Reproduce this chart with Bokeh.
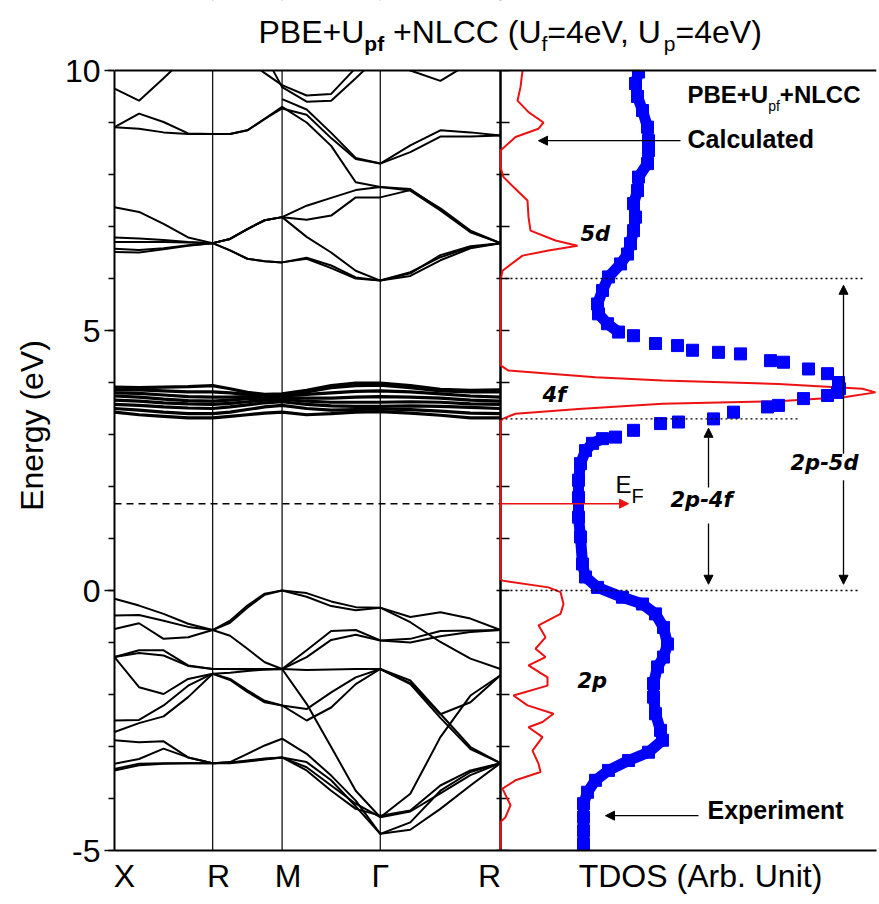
from bokeh.plotting import figure
from bokeh.models import (Range1d, FixedTicker, SingleIntervalTicker, BoxAnnotation,
                          CustomJSTickFormatter, Span, Label, Arrow, NormalHead)
from bokeh.embed import file_html
from bokeh.resources import INLINE

NaN = float("nan")

# ---------------- data ----------------
# high-symmetry points along the path (path length, 2pi/a units)
K_SYM = [0.0, 0.7071, 1.2071, 1.9142, 2.7802]
SYM_LABELS = ["X", "R", "M", "\u0393", "R"]
POINTS_PER_SEGMENT = 4          # energies read at 0, 1/4, 1/2, 3/4 of each segment (+ final point)
E_FERMI = 1.67
E_MIN, E_MAX = -5, 10
E_TICKS_INNER = [-5, -4, -3, -2, -1, 0, 1, 2, 3, 4, 5, 6, 7, 8, 9, 10]

# band energies (eV) at the sampled k points: X .. R .. M .. Gamma .. R
CONDUCTION = [
    [9.65, 9.42, 9.85, 10.3, 10.6, 10.5, 10.2, 9.95, 9.72, 9.52, 9.55, 10.05, 10.5, 10.8, 10.9, 10.8, 10.6],
    [NaN, NaN, NaN, NaN, NaN, NaN, 10.6, 10.3, 9.68, 9.40, 9.42, 9.85, 10.3, 10.0, 9.80, 10.15, 10.6],
    [NaN, NaN, NaN, NaN, NaN, NaN, NaN, NaN, 9.45, 9.25, 8.80, 8.32, 8.21, 8.43, 8.73, 8.73, 8.75],
    [8.91, 9.17, 9.01, 8.79, 8.78, 8.78, 8.85, 9.07, 9.27, 9.15, 8.70, 8.30, 8.21, 8.56, 8.85, 8.81, 8.75],
    [8.91, 8.88, 8.81, 8.78, 8.78, 8.78, 8.85, 9.07, 9.30, 9.00, 8.55, 7.85, 7.76, 7.72, 7.33, 6.90, 6.68],
    [7.37, 7.28, 7.05, 6.79, 6.68, 6.76, 6.95, 7.12, 7.18, 7.40, 7.55, 7.70, 7.76, 7.69, 7.31, 6.89, 6.68],
    [6.79, 6.77, 6.74, 6.70, 6.68, 6.76, 6.95, 7.12, 7.18, 7.13, 7.21, 7.56, 7.56, 7.70, 7.35, 6.92, 6.68],
    [6.70, 6.70, 6.70, 6.69, 6.68, 6.76, 6.95, 7.12, 7.18, 6.80, 6.50, 6.15, 5.96, 6.12, 6.41, 6.60, 6.68],
    [6.57, 6.55, 6.58, 6.64, 6.68, 6.54, 6.38, 6.33, 6.31, 6.40, 6.25, 6.02, 5.96, 6.05, 6.35, 6.58, 6.68],
    [6.51, 6.50, 6.56, 6.63, 6.68, 6.54, 6.38, 6.33, 6.31, 6.38, 6.20, 6.00, 5.96, 6.10, 6.45, 6.62, 6.68],
]
F_BANDS = [
    [3.91, 3.90, 3.91, 3.92, 3.94, 3.88, 3.81, 3.77, 3.78, 3.85, 3.94, 3.99, 3.99, 3.94, 3.87, 3.85, 3.86],
    [3.86, 3.86, 3.84, 3.82, 3.82, 3.80, 3.77, 3.75, 3.76, 3.82, 3.90, 3.94, 3.95, 3.90, 3.84, 3.82, 3.82],
    [3.80, 3.79, 3.76, 3.73, 3.72, 3.72, 3.73, 3.73, 3.74, 3.77, 3.80, 3.83, 3.84, 3.82, 3.78, 3.74, 3.72],
    [3.74, 3.72, 3.68, 3.65, 3.64, 3.66, 3.69, 3.70, 3.71, 3.70, 3.70, 3.72, 3.73, 3.72, 3.70, 3.66, 3.64],
    [3.66, 3.64, 3.61, 3.59, 3.58, 3.60, 3.63, 3.66, 3.68, 3.64, 3.62, 3.62, 3.62, 3.63, 3.62, 3.59, 3.58],
    [3.58, 3.56, 3.53, 3.51, 3.50, 3.53, 3.57, 3.61, 3.63, 3.58, 3.55, 3.54, 3.54, 3.55, 3.54, 3.52, 3.50],
    [3.50, 3.47, 3.43, 3.40, 3.40, 3.43, 3.48, 3.53, 3.56, 3.50, 3.47, 3.48, 3.49, 3.48, 3.45, 3.41, 3.40],
    [3.43, 3.38, 3.35, 3.32, 3.32, 3.35, 3.38, 3.41, 3.43, 3.38, 3.40, 3.43, 3.44, 3.41, 3.37, 3.32, 3.32],
]
VALENCE = [
    [-0.16, -0.29, -0.45, -0.64, -0.76, -0.58, -0.29, -0.06, 0.00, -0.05, -0.21, -0.32, -0.33, -0.51, -0.42, -0.54, -0.76],
    [-0.48, -0.47, -0.58, -0.70, -0.76, -0.62, -0.33, -0.08, 0.00, -0.12, -0.30, -0.38, -0.33, -0.61, -0.99, -1.31, -1.51],
    [-0.74, -0.63, -0.93, -0.90, -0.76, -0.87, -1.12, -1.38, -1.51, -1.15, -0.78, -0.76, -0.96, -0.93, -0.78, -0.77, -0.76],
    [-1.28, -1.20, -1.25, -1.45, -1.51, -1.51, -1.52, -1.52, -1.51, -1.28, -0.95, -0.85, -0.96, -1.00, -0.88, -0.80, -0.76],
    [-1.28, -1.15, -1.15, -1.44, -1.51, -1.51, -1.51, -1.51, -1.51, -1.53, -1.52, -1.51, -1.51, -1.78, -2.38, -2.15, -1.63],
    [-1.28, -1.86, -1.99, -1.70, -1.60, -1.70, -1.92, -2.12, -2.21, -2.28, -1.96, -1.67, -1.51, -1.73, -2.37, -3.01, -3.32],
    [-2.50, -2.49, -2.21, -1.83, -1.60, -1.58, -1.55, -1.52, -1.51, -2.18, -3.01, -3.85, -4.36, -3.91, -2.82, -2.02, -1.63],
    [-2.72, -2.55, -2.42, -2.05, -1.60, -1.72, -1.95, -2.15, -2.21, -2.50, -2.25, -1.80, -1.51, -1.80, -2.45, -3.05, -3.32],
    [-2.88, -2.92, -2.90, -3.21, -3.32, -3.30, -3.14, -2.98, -2.85, -3.14, -3.56, -4.04, -4.68, -4.46, -3.85, -3.49, -3.32],
    [-3.33, -3.24, -3.04, -3.21, -3.32, -3.31, -3.28, -3.24, -3.21, -3.46, -3.85, -4.20, -4.33, -4.23, -3.75, -3.46, -3.32],
    [-3.43, -3.33, -3.32, -3.32, -3.32, -3.31, -3.27, -3.23, -3.21, -3.40, -3.75, -4.10, -4.36, -4.25, -3.90, -3.55, -3.32],
    [-3.46, -3.36, -3.33, -3.32, -3.32, -3.32, -3.29, -3.25, -3.21, -3.30, -3.65, -4.15, -4.68, -4.60, -4.20, -3.75, -3.32],
]

# calculated TDOS (arb. units) vs energy
CALC_E = [10.0, 9.68, 9.42, 9.2, 9.0, 8.88, 8.72, 8.46, 8.14, 7.95, 7.76, 7.5, 7.18, 6.92, 6.73, 6.63,
          6.54, 6.44, 6.15, 5.96, 4.33, 4.23, 4.10, 4.04, 3.97, 3.88, 3.81, 3.72, 3.64, 3.59, 3.49, 3.40,
          3.30, 3.25, 0.22, 0.19, 0.06, -0.03, -0.26, -0.45, -0.67, -0.90, -1.12, -1.28, -1.44, -1.67,
          -1.83, -2.02, -2.21, -2.37, -2.53, -2.63, -2.82, -3.08, -3.33, -3.49, -3.65, -3.81, -4.13,
          -4.36, -4.45, -5.0]
CALC_DOS = [2.2, 2.0, 1.7, 2.8, 4.3, 3.8, 1.5, 0.0, 0.0, 0.3, 1.3, 2.7, 2.8, 3.0, 5.5, 7.7,
            4.8, 2.2, 0.2, 0.0, 0.0, 0.8, 9.5, 16.2, 27.8, 36.2, 37.5, 34.5, 27.8, 16.2, 7.8, 1.5,
            0.2, 0.0, 0.0, 0.2, 4.8, 6.0, 6.3, 6.0, 3.8, 4.5, 3.5, 4.5, 2.8, 4.7,
            4.7, 1.3, 2.7, 5.3, 4.2, 2.8, 4.2, 3.2, 3.8, 4.0, 1.5, 0.2, 1.0,
            0.5, 0.0, 0.0]

# experimental spectrum (arb. units)
EXP_TOP_E = [9.97, 9.75, 9.50, 9.23, 8.91, 8.65, 8.46, 8.21, 7.95, 7.69, 7.44, 7.18, 6.92, 6.67,
             6.47, 6.28, 6.03, 5.77, 5.51, 5.32, 5.13, 4.97]
EXP_TOP_I = [13.8, 13.5, 13.7, 14.2, 14.7, 14.8, 14.8, 14.7, 13.8, 13.7, 13.3, 13.5, 13.3, 13.0,
             12.7, 12.0, 10.8, 10.2, 9.7, 9.8, 10.7, 11.8]
EXP_MID_E = [4.90, 4.75, 4.71, 4.62, 4.58, 4.55, 4.42, 4.39, 4.26, 4.17, 4.00, 3.88, 3.81, 3.75,
             3.69, 3.56, 3.53, 3.43, 3.30, 3.24, 3.21, 3.08, 2.95]
EXP_MID_I = [13.3, 15.5, 17.7, 19.2, 21.8, 24.0, 27.0, 28.3, 30.8, 32.7, 33.8, 33.9, 33.7, 32.7,
             30.3, 27.8, 26.7, 23.3, 21.3, 17.8, 16.0, 13.3, 11.5]
EXP_BOT_E = [2.92, 2.83, 2.69, 2.44, 2.12, 1.79, 1.41, 1.03, 0.51, 0.26, 0.06, -0.13, -0.26, -0.45,
             -0.71, -1.03, -1.28, -1.47, -1.79, -2.05, -2.37, -2.69, -2.88, -3.11, -3.27, -3.46,
             -3.65, -3.88, -4.10, -4.36, -4.62, -4.87]
EXP_BOT_I = [10.2, 9.2, 8.5, 8.0, 7.8, 7.8, 7.8, 8.0, 8.2, 8.5, 9.7, 12.2, 14.2, 15.5,
             16.3, 16.7, 16.3, 15.7, 15.3, 15.3, 15.5, 16.0, 16.2, 14.8, 12.8, 10.8,
             9.5, 8.7, 8.3, 8.3, 8.3, 8.3]

# band-edge markers (dotted)
EDGE_E = [6.0, 3.3, 0.0]
EDGE_LEN = [36.5, 29.8, 35.7]
TDOS_LABEL_POS = 20.0

# ---------------- layout ----------------
W, H = 877, 900
B_LEFT, B_RIGHT, B_TOP, B_BOTTOM = 114, 1, 0, 50
FRAME_W = W - B_LEFT - B_RIGHT
FRAME_H = H - B_TOP - B_BOTTOM
PX_PER_EV = 52.0
BAND_W = 386
TDOS_END = (FRAME_W - BAND_W) / 10.0
FONT = "Liberation Sans"
BASELINE_FIX = 0.33             # lift applied to labels (fraction of font size)
SYM_LABEL_NUDGE_PX = [10, 6, 6, 0, -11]

x_end = K_SYM[-1] * FRAME_W / BAND_W
tdos_start = -TDOS_END * BAND_W / (FRAME_W - BAND_W)
y_top = E_MIN + FRAME_H / PX_PER_EV      # frame extends above E_MAX to host the title
k_per_px = x_end / FRAME_W

p = figure(width=W, height=H, title=None, x_range=Range1d(0, x_end), y_range=Range1d(E_MIN, y_top),
           output_backend="svg", toolbar_location=None,
           min_border_left=B_LEFT, min_border_right=B_RIGHT,
           min_border_top=B_TOP, min_border_bottom=B_BOTTOM)
p.extra_x_ranges = {"tdos": Range1d(tdos_start, TDOS_END)}
p.outline_line_color = None
p.xgrid.visible = False
p.ygrid.visible = False
p.background_fill_color = "white"

# k grid
k_grid = []
for a, b in zip(K_SYM[:-1], K_SYM[1:]):
    for j in range(POINTS_PER_SEGMENT):
        k_grid.append(a + (b - a) * j / POINTS_PER_SEGMENT)
k_grid.append(K_SYM[-1])

# symmetry lines
for k in K_SYM[1:-1]:
    p.add_layout(Span(location=k, dimension="height", line_color="black", line_width=1.2, level="underlay"))
p.add_layout(Span(location=K_SYM[-1], dimension="height", line_color="black", line_width=2.5, level="underlay"))

p.multi_line(xs=[k_grid] * len(CONDUCTION + VALENCE), ys=CONDUCTION + VALENCE, line_color="black", line_width=2)
p.multi_line(xs=[k_grid] * len(F_BANDS), ys=F_BANDS, line_color="black", line_width=3.2)

# Fermi level
p.line(x=[K_SYM[0], K_SYM[-1]], y=[E_FERMI, E_FERMI], line_color="black", line_width=1.5, line_dash="7 5")

# inner ticks of the TDOS panel
p.segment(x0=[-0.4] * len(E_TICKS_INNER), y0=E_TICKS_INNER, x1=[0.9] * len(E_TICKS_INNER), y1=E_TICKS_INNER,
          line_color="black", line_width=1.5, x_range_name="tdos")

# TDOS panel
RED = "#ee1111"
p.line(x=CALC_DOS, y=CALC_E, line_color=RED, line_width=2, x_range_name="tdos")
BLUE = "#0000ff"
for xs, ys in [(EXP_TOP_I, EXP_TOP_E), (EXP_BOT_I, EXP_BOT_E)]:
    p.line(x=xs, y=ys, line_color=BLUE, line_width=11, x_range_name="tdos")
for xs, ys in [(EXP_TOP_I, EXP_TOP_E), (EXP_MID_I, EXP_MID_E), (EXP_BOT_I, EXP_BOT_E)]:
    p.scatter(x=xs, y=ys, marker="square", size=12, fill_color=BLUE, line_color=BLUE, x_range_name="tdos")

p.segment(x0=[0] * len(EDGE_E), y0=EDGE_E, x1=EDGE_LEN, y1=EDGE_E, line_color="black",
          line_width=1.3, line_dash="2 3", x_range_name="tdos")

# mask everything above the top of the plotting area, then draw the top border
p.add_layout(BoxAnnotation(bottom=E_MAX, fill_color="white", fill_alpha=1.0, line_color=None))
p.add_layout(Span(location=E_MAX, dimension="width", line_color="black", line_width=2))

# axes
yax = p.yaxis[0]
yax.bounds = (E_MIN, E_MAX)
yax.ticker = SingleIntervalTicker(interval=5, num_minor_ticks=5)
yax.formatter = CustomJSTickFormatter(code="return tick.toFixed(0);")
yax.axis_label = "Energy (eV)"
yax.axis_label_text_font = FONT
yax.axis_label_text_font_size = "32px"
yax.axis_label_text_font_style = "normal"
yax.axis_label_text_color = "black"
yax.axis_label_standoff = 12
yax.major_label_text_font = FONT
yax.major_label_text_font_size = "32px"
yax.major_label_text_color = "black"
yax.major_label_standoff = 4
yax.major_tick_in = 0
yax.major_tick_out = 10
yax.minor_tick_in = 0
yax.minor_tick_out = 6
yax.axis_line_width = 2
yax.major_tick_line_width = 1.5
yax.minor_tick_line_width = 1.5

# symmetry-point labels (tick marks hidden, labels nudged like the original) + TDOS axis title
label_ticks = [k + n * k_per_px for k, n in zip(K_SYM, SYM_LABEL_NUDGE_PX)]
k_tdos_label = K_SYM[-1] + TDOS_LABEL_POS * (x_end - K_SYM[-1]) / TDOS_END
xax = p.xaxis[0]
xax.ticker = FixedTicker(ticks=label_ticks + [k_tdos_label])
xax.formatter = CustomJSTickFormatter(args=dict(labels=SYM_LABELS + ["TDOS (Arb. Unit)"]),
                                      code="return labels[index];")
xax.major_label_text_font = FONT
xax.major_label_text_font_size = "32px"
xax.major_label_text_color = "black"
xax.major_label_standoff = 1
xax.major_tick_line_color = None
xax.minor_tick_line_color = None
xax.axis_line_width = 2

# ---------------- text helpers ----------------
W_REG = {" ": 278, "(": 333, ")": 333, "+": 584, ",": 278, "=": 584, "4": 556, "P": 667, "B": 667,
         "E": 667, "U": 722, "N": 722, "L": 556, "C": 722, "e": 556, "V": 667, "f": 278, "p": 556, "F": 611}
W_BOLD = {" ": 278, "+": 584, "P": 667, "B": 722, "E": 667, "U": 722, "N": 722, "L": 611, "C": 722,
          "p": 611, "f": 333}


def text_width(s, size, bold):
    table = W_BOLD if bold else W_REG
    return sum(table.get(ch, 556) for ch in s) * size / 1000.0


def rich(runs, x, y, x_range_name="default", color="black"):
    off = 0.0
    for txt, size, style, dy in runs:
        bold = "bold" in style
        stripped = txt.lstrip(" ")
        off += text_width(txt[:len(txt) - len(stripped)], size, bold)
        p.add_layout(Label(x=x, y=y, x_offset=off, y_offset=dy + BASELINE_FIX * size, text=stripped,
                           text_font=FONT, text_font_size=f"{size}px", text_font_style=style,
                           text_color=color, text_baseline="alphabetic", text_align="left",
                           x_range_name=x_range_name))
        off += text_width(stripped, size, bold)


def label(txt, x, y, size, style, font=FONT):
    p.add_layout(Label(x=x, y=y, y_offset=BASELINE_FIX * size, text=txt, text_font=font,
                       text_font_size=f"{size}px", text_font_style=style, text_color="black",
                       text_align="left", text_baseline="alphabetic", x_range_name="tdos"))


# title: starts 258 px from the left edge, baseline 28 px above the top border
title_x = (258 - B_LEFT) * k_per_px
title_y = E_MAX + 28 / PX_PER_EV
rich([("PBE+U", 32, "normal", 0), ("pf", 21, "bold", -8), (" +NLCC (U", 32, "normal", 0),
      ("f", 21, "normal", -8), ("=4eV, U", 32, "normal", 0), ("p", 21, "normal", -8),
      ("=4eV)", 32, "normal", 0)], x=title_x, y=title_y)

# right-panel annotations
rich([("PBE+U", 24, "bold", 0), ("pf", 14, "normal", -8), ("+NLCC", 24, "bold", 0)],
     x=18.7, y=9.39, x_range_name="tdos")
label("Calculated", 18.7, 8.53, 25, "bold")
label("Experiment", 20.7, -4.38, 25, "bold")

IT_FONT = "DejaVu Sans"
label("5d", 8.0, 6.73, 21, "bold italic", font=IT_FONT)
label("4f", 4.2, 3.62, 21, "bold italic", font=IT_FONT)
label("2p", 7.7, -1.88, 21, "bold italic", font=IT_FONT)
label("2p-4f", 17.0, 1.60, 21, "bold italic", font=IT_FONT)
label("2p-5d", 29.0, 2.31, 21, "bold italic", font=IT_FONT)
rich([("E", 24, "normal", 0), ("F", 20, "normal", -10)], x=11.5, y=1.89, x_range_name="tdos")


def arrow(x0, y0, x1, y1, color="black", width=1.3, size=9):
    p.add_layout(Arrow(x_start=x0, y_start=y0, x_end=x1, y_end=y1, line_color=color, line_width=width,
                       end=NormalHead(size=size, fill_color=color, line_color=color),
                       x_range_name="tdos"))


arrow(18.0, 8.65, 3.8, 8.65)             # Calculated
arrow(19.8, -4.33, 10.5, -4.33)          # Experiment
arrow(0.0, E_FERMI, 12.8, E_FERMI, color=RED, width=1.5)   # E_F
arrow(20.8, 1.98, 20.8, 3.12)            # 2p-4f up
arrow(20.8, 1.29, 20.8, 0.12)            # 2p-4f down
arrow(34.3, 2.63, 34.3, 5.87)            # 2p-5d up
arrow(34.3, 2.12, 34.3, 0.12)            # 2p-5d down

open("out.html", "w").write(file_html(p, INLINE))
